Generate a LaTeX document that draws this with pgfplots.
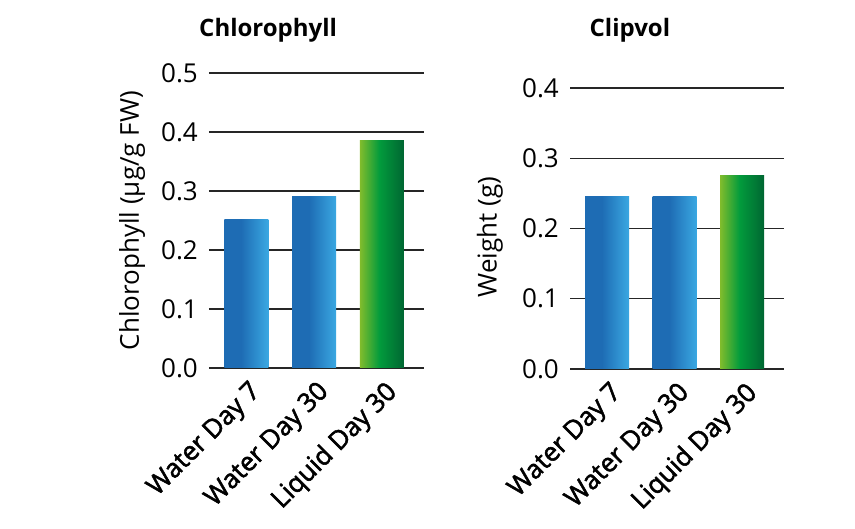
\documentclass[border=0pt]{standalone}
\usepackage{pgfplots}
\pgfplotsset{compat=1.18}
\usepackage{fontspec}
\setmainfont{Open Sans}
\newfontfamily\semib[FakeBold=2]{Open Sans}
\definecolor{bA}{RGB}{30,108,180}
\definecolor{bB}{RGB}{58,168,226}
\definecolor{gA}{RGB}{128,188,44}
\definecolor{gB}{RGB}{2,155,60}
\definecolor{gC}{RGB}{0,102,50}
\pgfdeclarehorizontalshading{blueshade}{100bp}{color(0bp)=(bA); color(25bp)=(bA); color(44bp)=(bA); color(75bp)=(bB); color(100bp)=(bB)}
\pgfdeclarehorizontalshading{greenshade}{100bp}{color(0bp)=(gA); color(25bp)=(gA); color(47bp)=(gB); color(75bp)=(gC); color(100bp)=(gC)}
\pgfplotsset{
  mypanel/.style={
    scale only axis,
    axis line style={draw=none},
    major tick length=0pt,
    ymajorgrids,
    grid style={black!85, line width=1.1pt},
    xmin=-0.55, xmax=2.62, ymin=0,
    xtick={0,1,2},
    xticklabels={Water Day 7, Water Day 30, Liquid Day 30},
    yticklabel style={font=\fontsize{26}{30}\selectfont, inner sep=0pt, xshift=-11pt},
    xticklabel style={font=\semib\fontsize{26}{30}\selectfont, inner sep=0pt, xshift=2pt, yshift=-11pt, anchor=north east, rotate=45},
    label style={font=\fontsize{26}{30}\selectfont},
    title style={font=\fontsize{24}{28}\selectfont\bfseries, anchor=base},
    clip=false,
  },
  mybar/.style={ybar, bar width=44pt, bar shift=0pt, draw=none, shade, shading=#1},
}
\begin{document}
\begin{tikzpicture}[x=1pt,y=1pt]
\useasboundingbox (0,0) rectangle (855,529);
\begin{axis}[mypanel, at={(209pt,161pt)}, anchor=south west, width=215pt, height=295pt,
  ymax=0.5, ytick={0,0.1,0.2,0.3,0.4,0.5}, yticklabels={0.0,0.1,0.2,0.3,0.4,0.5},
  title={Chlorophyll}, title style={at={(rel axis cs:0.275,1)}, yshift=30pt},
  ylabel={Chlorophyll (µg/g FW)}, ylabel style={at={(rel axis cs:-0.358,0.5)}, anchor=center}]
\addplot[mybar=blueshade] coordinates {(0,0.252)};
\addplot[mybar=blueshade] coordinates {(1,0.290)};
\addplot[mybar=greenshade] coordinates {(2,0.385)};
\end{axis}
\begin{axis}[mypanel, at={(570pt,160pt)}, anchor=south west, width=214pt, height=281pt,
  ymax=0.4, ytick={0,0.1,0.2,0.3,0.4}, yticklabels={0.0,0.1,0.2,0.3,0.4},
  title={Clipvol}, title style={at={(rel axis cs:0.28,1)}, yshift=45pt},
  ylabel={Weight (g)}, ylabel style={at={(rel axis cs:-0.374,0.47)}, anchor=center}]
\addplot[mybar=blueshade] coordinates {(0,0.245)};
\addplot[mybar=blueshade] coordinates {(1,0.245)};
\addplot[mybar=greenshade] coordinates {(2,0.275)};
\end{axis}
\end{tikzpicture}
\end{document}
